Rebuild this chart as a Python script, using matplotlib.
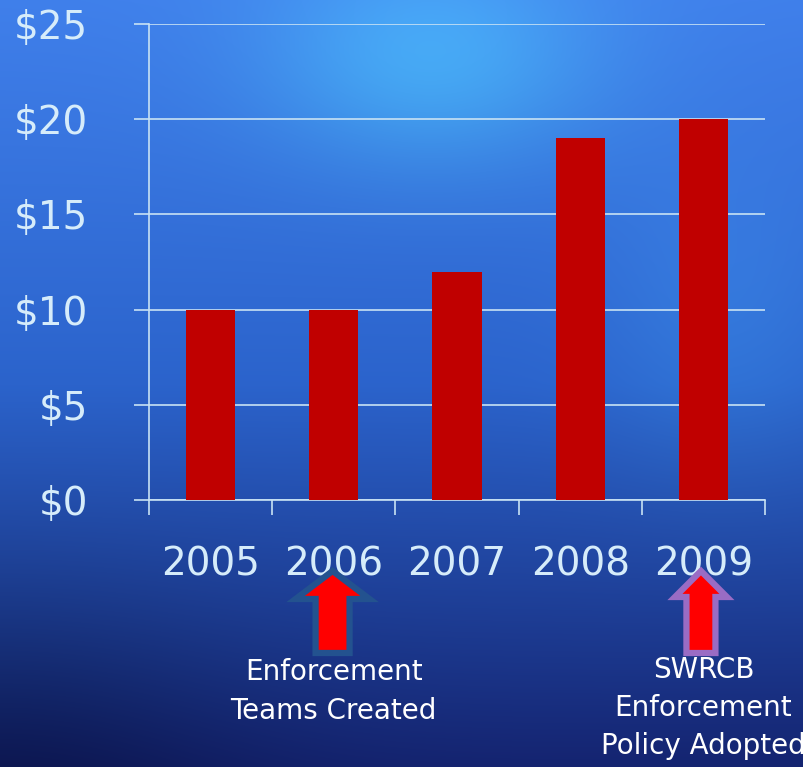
import numpy as np
import matplotlib
matplotlib.use("Agg")
import matplotlib.pyplot as plt
from matplotlib.patches import Polygon
from matplotlib.transforms import blended_transform_factory

years = ["2005", "2006", "2007", "2008", "2009"]
values = [10, 10, 12, 19, 20]
y_ticks = [0, 5, 10, 15, 20, 25]
y_labels = ["$0", "$5", "$10", "$15", "$20", "$25"]
note1 = "Enforcement\nTeams Created"
note2 = "SWRCB\nEnforcement\nPolicy Adopted"

W, H = 804, 767
fig = plt.figure(figsize=(W / 100, H / 100), dpi=100)

# background gradient
bg = fig.add_axes([0, 0, 1, 1], zorder=-10)
yy, xx = np.mgrid[0:H, 0:W]
t = (yy / H)[..., None]
top = np.array([0.25, 0.50, 0.92])
mid = np.array([0.17, 0.39, 0.80])
bot = np.array([0.08, 0.14, 0.44])
img = np.where(t < 0.5, top + (mid - top) * (t / 0.5), mid + (bot - mid) * ((t - 0.5) / 0.5))
blob = np.exp(-(((xx - 430) / 170.0) ** 2 + ((yy - 60) / 110.0) ** 2))[..., None]
img = img + blob * np.array([0.04, 0.18, 0.06])
blob2 = np.exp(-(((xx - 720) / 120.0) ** 2 + ((yy - 330) / 160.0) ** 2))[..., None]
img = img + blob2 * np.array([0.02, 0.06, 0.04])
dark = np.exp(-(((xx - 0) / 250.0) ** 2 + ((yy - 767) / 200.0) ** 2))[..., None]
img = img - dark * np.array([0.03, 0.05, 0.12])
img = np.clip(img, 0, 1)
bg.imshow(img, aspect="auto", extent=[0, 1, 0, 1], origin="upper")
bg.axis("off")

L, R, T, B = 149, 765, 24, 500
ax = fig.add_axes([L / W, (H - B) / H, (R - L) / W, (B - T) / H])
ax.patch.set_alpha(0)

line_c = "#c8e2f4"
text_c = "#d6ecfa"
x = np.arange(len(years))
ax.bar(x, values, width=0.4, color="#c00000", zorder=3)
ax.set_xlim(-0.5, len(years) - 0.5)
ax.set_ylim(0, 25)

ax.set_yticks(y_ticks)
ax.set_yticklabels(y_labels, fontsize=28, color=text_c)
ax.yaxis.grid(True, color=line_c, linewidth=1.2, zorder=1)
ax.tick_params(axis="y", length=11, width=1.2, color=line_c, pad=33)

ax.set_xticks(np.arange(len(years) + 1) - 0.5)
ax.set_xticklabels([])
ax.set_xticks(x, minor=True)
ax.set_xticklabels(years, minor=True, fontsize=28, color=text_c)
ax.tick_params(axis="x", which="major", length=11, width=1.2, color=line_c)
ax.tick_params(axis="x", which="minor", length=0, pad=33)

for s in ["top", "right"]:
    ax.spines[s].set_visible(False)
for s in ["left", "bottom"]:
    ax.spines[s].set_color(line_c)
    ax.spines[s].set_linewidth(1.2)

tr = blended_transform_factory(ax.transData, ax.transAxes)
ppx = 1 / 123.2  # data units per pixel (x)
ppy = 1 / 476.0  # axes units per pixel (y)


def arrow(cx, tip_px, head_w, shaft_w, head_l, total_l, edge):
    ty = (B - tip_px) * ppy
    hb = ty - head_l * ppy
    by = ty - total_l * ppy
    hw = head_w / 2 * ppx
    sw = shaft_w / 2 * ppx
    verts = [(cx, ty), (cx + hw, hb), (cx + sw, hb), (cx + sw, by),
             (cx - sw, by), (cx - sw, hb), (cx - hw, hb)]
    p = Polygon(verts, closed=True, transform=tr, facecolor="#ff0000",
                edgecolor=edge, linewidth=4.5, joinstyle="miter", clip_on=False, zorder=5)
    ax.add_patch(p)


arrow(0.99, 571, 74, 34, 28, 82, "#23528f")
arrow(3.98, 571, 52, 29, 26, 82, "#9a6cc4")

ax.text(1.0, (B - 658) * ppy, note1, transform=tr, ha="center", va="top",
        fontsize=20, color="white", linespacing=1.48, clip_on=False)
ax.text(4.0, (B - 656) * ppy, note2, transform=tr, ha="center", va="top",
        fontsize=20, color="white", linespacing=1.45, clip_on=False)

fig.savefig("out.png", dpi=100)
